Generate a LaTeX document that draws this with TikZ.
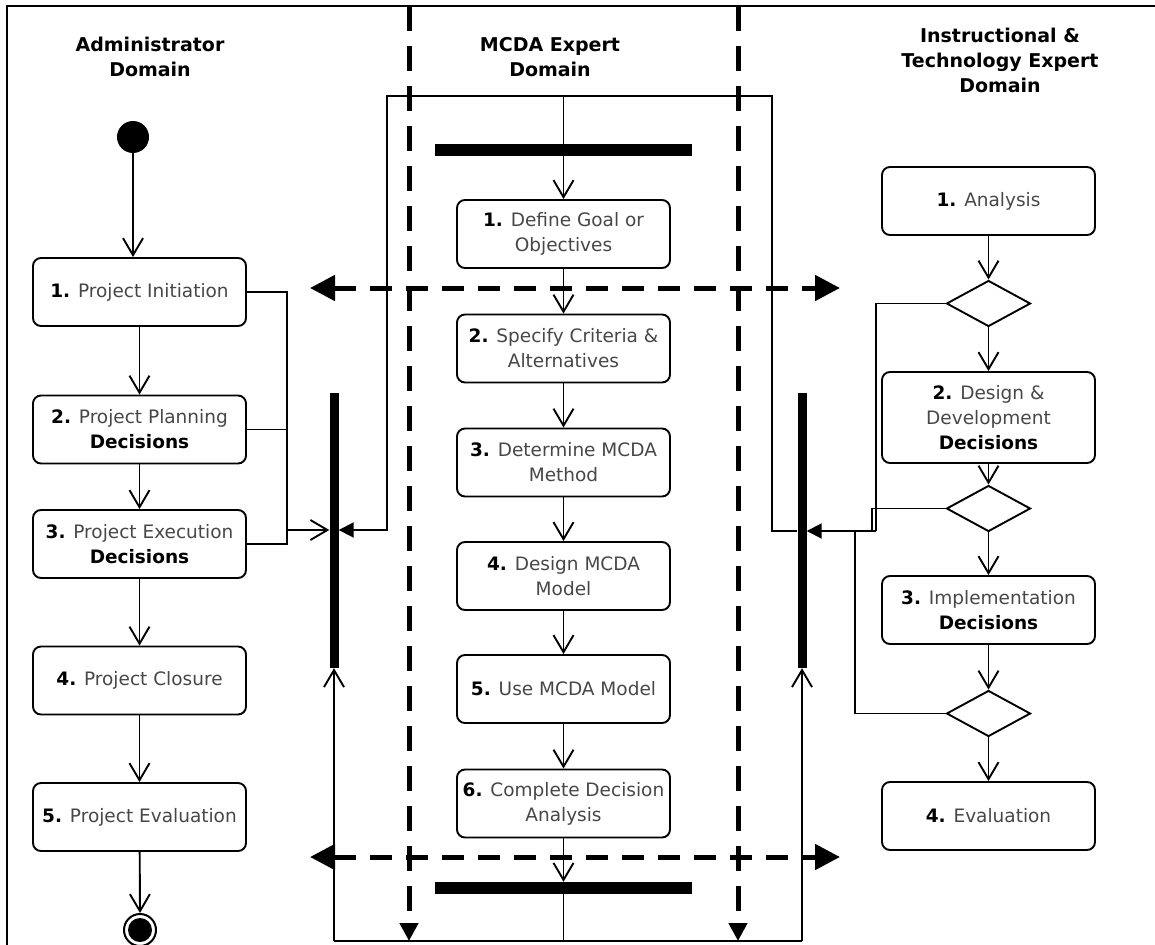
\documentclass[tikz,border=0pt]{standalone}
\usepackage{fontspec}
\setmainfont{DejaVu Sans}
\usepackage{tikz}
\usetikzlibrary{arrows.meta, shapes.geometric}

\tikzset{
  act/.style={draw, rounded corners=8pt, line width=1.9pt, minimum width=213pt,
    minimum height=68pt, align=center, text=black!72,
    font=\fontsize{18.5}{25}\selectfont},
  choice/.style={draw, diamond, line width=1.9pt, inner sep=0pt,
    minimum width=84pt, minimum height=46pt},
  syncbar/.style={fill=black, inner sep=0pt},
  lanehead/.style={align=center, font=\fontsize{19}{25}\selectfont\bfseries},
  link/.style={line width=1.9pt},
  flow/.style={-{Straight Barb[length=17pt,width=20pt]}, line width=1.9pt},
  merge/.style={-{Triangle[length=15pt,width=15pt]}, line width=1.9pt},
  lane/.style={line width=5pt, dash pattern=on 25pt off 15pt,
    -{Triangle[length=18pt,width=18pt]}},
  exchange/.style={line width=5pt, dash pattern=on 22pt off 14pt,
    {Triangle[length=25pt,width=25pt]}-{Triangle[length=25pt,width=25pt]}}
}
\newcommand{\dec}{\\ \textcolor{black}{\textbf{Decisions}}}

\begin{document}
\begin{tikzpicture}[x=1pt, y=-1pt]
  \useasboundingbox (0,0) rectangle (1155,944);
  % frame
  \draw[line width=2.2pt] (7,960) -- (7,6) -- (1170,6);

  % domain headings
  \node[lanehead] (hadm) at (150,57) {Administrator\\Domain};
  \node[lanehead] (hmcda) at (550,57) {MCDA Expert\\Domain};
  \node[lanehead] (hite) at (1000,60) {Instructional \&\\Technology Expert\\Domain};

  % swimlane borders
  \draw[lane] (409,6) -- (409,941);
  \draw[lane] (738,6) -- (738,941);

  % administrator domain
  \fill (133,137) circle (16pt);
  \coordinate (start) at (133,153);
  \node[act] (l1) at (139.5,292) {\textcolor{black}{\textbf{1.}} Project Initiation};
  \node[act] (l2) at (139.5,429.5) {\textcolor{black}{\textbf{2.}} Project Planning\dec};
  \node[act] (l3) at (139.5,544) {\textcolor{black}{\textbf{3.}} Project Execution\dec};
  \node[act] (l4) at (139.5,680.5) {\textcolor{black}{\textbf{4.}} Project Closure};
  \node[act] (l5) at (139.5,817) {\textcolor{black}{\textbf{5.}} Project Evaluation};
  \draw[line width=2pt] (140,930) circle (16pt);
  \fill (140,930) circle (12pt);
  \coordinate (stop) at (140,913);

  \draw[flow] (start) -- (start |- l1.north);
  \foreach \a/\b in {l1/l2, l2/l3, l3/l4, l4/l5} {
    \draw[flow] (\a) -- (\b);
  }
  \draw[flow] (l5) -- (stop);

  % mcda expert domain
  \node[syncbar, minimum width=257pt, minimum height=12pt] (fork1) at (563.5,150) {};
  \node[act] (c1) at (563.5,234) {\textcolor{black}{\textbf{1.}} Define Goal or\\Objectives};
  \node[act] (c2) at (563.5,348.5) {\textcolor{black}{\textbf{2.}} Specify Criteria \&\\Alternatives};
  \node[act] (c3) at (563.5,462.5) {\textcolor{black}{\textbf{3.}} Determine MCDA\\Method};
  \node[act] (c4) at (563.5,576) {\textcolor{black}{\textbf{4.}} Design MCDA\\Model};
  \node[act] (c5) at (563.5,689) {\textcolor{black}{\textbf{5.}} Use MCDA Model};
  \node[act] (c6) at (563.5,803.5) {\textcolor{black}{\textbf{6.}} Complete Decision\\Analysis};
  \node[syncbar, minimum width=257pt, minimum height=12pt] (fork2) at (563.5,888) {};

  \foreach \a/\b in {c1/c2, c2/c3, c3/c4, c4/c5, c5/c6} {
    \draw[flow] (\a) -- (\b);
  }
  \draw[flow] (c6) -- (fork2.north);

  % instructional and technology expert domain
  \node[act] (r1) at (988.5,201) {\textcolor{black}{\textbf{1.}} Analysis};
  \node[choice] (d1) at (988.5,303.5) {};
  \node[act, minimum height=91pt] (r2) at (988.5,417.5) {\textcolor{black}{\textbf{2.}} Design \&\\Development\dec};
  \node[choice] (d2) at (988.5,508.5) {};
  \node[act] (r3) at (988.5,610) {\textcolor{black}{\textbf{3.}} Implementation\dec};
  \node[choice] (d3) at (988.5,713.5) {};
  \node[act] (r4) at (988.5,816) {\textcolor{black}{\textbf{4.}} Evaluation};

  \foreach \a/\b in {r1/d1, d1/r2, r2/d2, d2/r3, r3/d3, d3/r4} {
    \draw[flow] (\a) -- (\b);
  }

  % synchronisation bars
  \node[syncbar, minimum width=9pt, minimum height=275pt] (lbar) at (334,530.5) {};
  \node[syncbar, minimum width=9pt, minimum height=275pt] (rbar) at (802,530.5) {};

  % administrator outputs
  \coordinate (ladm) at (287,544);
  \coordinate (lin) at (287,530);
  \draw[link] (l1.east) -| (ladm) -- (l3.east);
  \draw[link] (l2.east) -- (l2.east -| ladm);
  \draw[flow] (lin) -- (lin -| lbar.west);

  % expert outputs
  \coordinate (rin) at (876,531);
  \draw[link] (d1.west) -| (rin);
  \draw[link] (d2.west) -| (872,531);
  \draw[link] (d3.west) -| (855,531);
  \draw[merge] (rin) -- (rin -| rbar.east);

  % loop into mcda domain
  \coordinate (loop) at (563.5,96);
  \draw[merge] (loop) -| (387,530) -- (lbar.east |- 0,530);
  \draw[link] (loop) -| (772,531) -- (rbar.west |- 0,531);
  \draw[flow] (loop) -- (c1.north);

  % loop back from mcda domain
  \coordinate (bl) at (334,941);
  \coordinate (br) at (802,941);
  \draw[link] (bl) -- (br);
  \draw[link] (fork2.south) -- (fork2.south |- bl);
  \draw[flow] (bl) -- (lbar.south);
  \draw[flow] (br) -- (rbar.south);

  % information exchange between domains
  \draw[exchange] (310,288) -- (840,288);
  \draw[exchange] (310,857) -- (840,857);
\end{tikzpicture}
\end{document}
